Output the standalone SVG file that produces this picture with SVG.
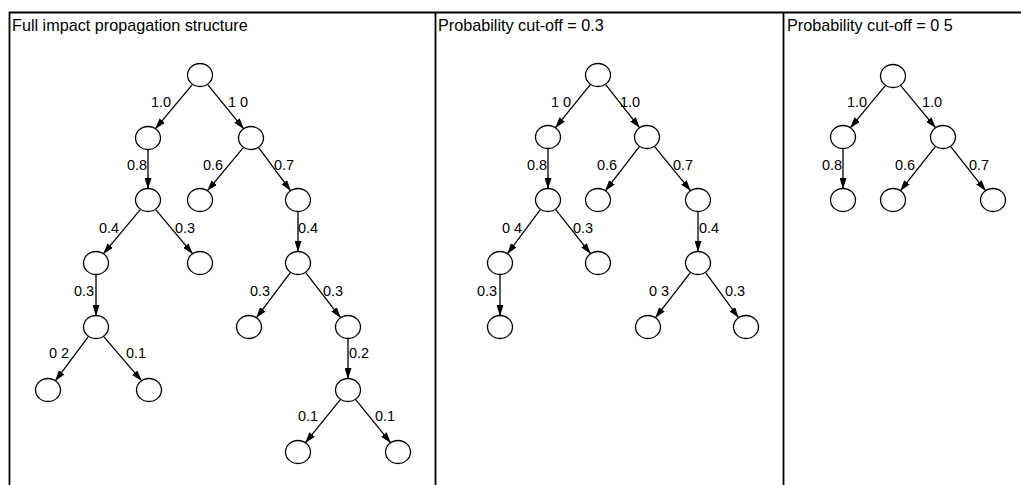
<svg xmlns="http://www.w3.org/2000/svg" width="1021" height="485" viewBox="0 0 1021 485">
<style>
.frame{stroke:#000;stroke-width:1.8;fill:none}
.node{fill:#fff;stroke:#000;stroke-width:1.3}
.edge{stroke:#000;stroke-width:1.3;fill:none;marker-end:url(#arr)}
.title{font-family:"Liberation Sans",Arial,sans-serif;font-size:16.2px;fill:#000}
.lbl{font-family:"Liberation Sans",Arial,sans-serif;font-size:14.5px;fill:#000}
</style>
<defs>
<marker id="arr" markerUnits="userSpaceOnUse" markerWidth="11" markerHeight="7" refX="10.5" refY="3.5" orient="auto">
<path d="M0,0 L11,3.5 L0,7 z" fill="#000"/>
</marker>
</defs>
<rect width="1021" height="485" fill="#fff"/>
<g id="frame">
<line class="frame" x1="9" y1="12.5" x2="1021" y2="12.5"/>
<line class="frame" x1="9.5" y1="12" x2="9.5" y2="485"/>
<line class="frame" x1="435.5" y1="12" x2="435.5" y2="485"/>
<line class="frame" x1="783.5" y1="12" x2="783.5" y2="485"/>
<text class="title" x="12" y="31">Full impact propagation structure</text>
<text class="title" x="438" y="31">Probability cut-off = 0.3</text>
<text class="title" x="787" y="31">Probability cut-off = 0 5</text>
</g>
<g id="connectors">
<!-- panel 1 -->
<line class="edge" x1="192.5" y1="84.3" x2="155.5" y2="128.7"/>
<line class="edge" x1="207.5" y1="84.3" x2="243.5" y2="128.7"/>
<line class="edge" x1="148" y1="149.5" x2="148" y2="188.5"/>
<line class="edge" x1="243.5" y1="147.3" x2="207.5" y2="190.7"/>
<line class="edge" x1="258.5" y1="147.3" x2="290.5" y2="190.7"/>
<line class="edge" x1="140.5" y1="209.3" x2="103.5" y2="253.7"/>
<line class="edge" x1="155.5" y1="209.3" x2="192.5" y2="253.7"/>
<line class="edge" x1="298" y1="211.5" x2="298" y2="251.5"/>
<line class="edge" x1="96" y1="274.5" x2="96" y2="315.5"/>
<line class="edge" x1="290.5" y1="272.3" x2="256.5" y2="317.7"/>
<line class="edge" x1="305.5" y1="272.3" x2="340.5" y2="317.7"/>
<line class="edge" x1="88.5" y1="336.3" x2="55.5" y2="380.7"/>
<line class="edge" x1="103.5" y1="336.3" x2="141.5" y2="380.7"/>
<line class="edge" x1="348" y1="338.5" x2="348" y2="378.5"/>
<line class="edge" x1="340.5" y1="399.3" x2="305.5" y2="442.7"/>
<line class="edge" x1="355.5" y1="399.3" x2="390.5" y2="442.7"/>
<!-- panel 2 -->
<line class="edge" x1="590.5" y1="84.3" x2="555.5" y2="127.7"/>
<line class="edge" x1="605.5" y1="84.3" x2="639.5" y2="127.7"/>
<line class="edge" x1="548" y1="148.5" x2="548" y2="188.5"/>
<line class="edge" x1="639.5" y1="146.3" x2="605.5" y2="190.7"/>
<line class="edge" x1="654.5" y1="146.3" x2="690.5" y2="190.7"/>
<line class="edge" x1="540.5" y1="209.3" x2="507.5" y2="253.7"/>
<line class="edge" x1="555.5" y1="209.3" x2="590.5" y2="253.7"/>
<line class="edge" x1="698" y1="211.5" x2="698" y2="251.5"/>
<line class="edge" x1="500" y1="274.5" x2="500" y2="315.5"/>
<line class="edge" x1="690.5" y1="272.3" x2="655.5" y2="317.7"/>
<line class="edge" x1="705.5" y1="272.3" x2="738.5" y2="317.7"/>
<!-- panel 3 -->
<line class="edge" x1="885.5" y1="85.3" x2="850.5" y2="127.7"/>
<line class="edge" x1="900.5" y1="85.3" x2="935.5" y2="127.7"/>
<line class="edge" x1="843" y1="148.5" x2="843" y2="188.5"/>
<line class="edge" x1="935.5" y1="146.3" x2="900.5" y2="190.7"/>
<line class="edge" x1="950.5" y1="146.3" x2="985.5" y2="190.7"/>
</g>
<g id="labels">
<text class="lbl" x="151" y="107">1.0</text>
<text class="lbl" x="228" y="107">1 0</text>
<text class="lbl" x="127" y="170">0.8</text>
<text class="lbl" x="203" y="170">0.6</text>
<text class="lbl" x="274" y="170">0.7</text>
<text class="lbl" x="99" y="233">0.4</text>
<text class="lbl" x="175" y="233">0.3</text>
<text class="lbl" x="298" y="233">0.4</text>
<text class="lbl" x="74" y="296">0.3</text>
<text class="lbl" x="250" y="296">0.3</text>
<text class="lbl" x="323" y="296">0.3</text>
<text class="lbl" x="49" y="358">0 2</text>
<text class="lbl" x="126" y="358">0.1</text>
<text class="lbl" x="349" y="358">0.2</text>
<text class="lbl" x="298" y="421">0.1</text>
<text class="lbl" x="375" y="421">0.1</text>
<text class="lbl" x="551" y="107">1 0</text>
<text class="lbl" x="620" y="107">1.0</text>
<text class="lbl" x="527" y="170">0.8</text>
<text class="lbl" x="597" y="170">0.6</text>
<text class="lbl" x="673" y="170">0.7</text>
<text class="lbl" x="502" y="233">0 4</text>
<text class="lbl" x="573" y="233">0.3</text>
<text class="lbl" x="699" y="233">0.4</text>
<text class="lbl" x="477" y="296">0.3</text>
<text class="lbl" x="649" y="296">0 3</text>
<text class="lbl" x="725" y="296">0.3</text>
<text class="lbl" x="847" y="107">1.0</text>
<text class="lbl" x="922" y="107">1.0</text>
<text class="lbl" x="822" y="170">0.8</text>
<text class="lbl" x="895" y="170">0.6</text>
<text class="lbl" x="969" y="170">0.7</text>
</g>
<g id="p1a"><ellipse class="node" cx="200" cy="75" rx="12.5" ry="11.5"/></g>
<g id="p1b"><ellipse class="node" cx="148" cy="138" rx="12.5" ry="11.5"/></g>
<g id="p1c"><ellipse class="node" cx="251" cy="138" rx="12.5" ry="11.5"/></g>
<g id="p1d"><ellipse class="node" cx="148" cy="200" rx="12.5" ry="11.5"/></g>
<g id="p1e"><ellipse class="node" cx="200" cy="200" rx="12.5" ry="11.5"/></g>
<g id="p1f"><ellipse class="node" cx="298" cy="200" rx="12.5" ry="11.5"/></g>
<g id="p1g"><ellipse class="node" cx="96" cy="263" rx="12.5" ry="11.5"/></g>
<g id="p1h"><ellipse class="node" cx="200" cy="263" rx="12.5" ry="11.5"/></g>
<g id="p1i"><ellipse class="node" cx="298" cy="263" rx="12.5" ry="11.5"/></g>
<g id="p1j"><ellipse class="node" cx="96" cy="327" rx="12.5" ry="11.5"/></g>
<g id="p1k"><ellipse class="node" cx="249" cy="327" rx="12.5" ry="11.5"/></g>
<g id="p1l"><ellipse class="node" cx="348" cy="327" rx="12.5" ry="11.5"/></g>
<g id="p1m"><ellipse class="node" cx="48" cy="390" rx="12.5" ry="11.5"/></g>
<g id="p1n"><ellipse class="node" cx="149" cy="390" rx="12.5" ry="11.5"/></g>
<g id="p1o"><ellipse class="node" cx="348" cy="390" rx="12.5" ry="11.5"/></g>
<g id="p1p"><ellipse class="node" cx="298" cy="452" rx="12.5" ry="11.5"/></g>
<g id="p1q"><ellipse class="node" cx="398" cy="452" rx="12.5" ry="11.5"/></g>
<g id="p2a"><ellipse class="node" cx="598" cy="75" rx="12.5" ry="11.5"/></g>
<g id="p2b"><ellipse class="node" cx="548" cy="137" rx="12.5" ry="11.5"/></g>
<g id="p2c"><ellipse class="node" cx="647" cy="137" rx="12.5" ry="11.5"/></g>
<g id="p2d"><ellipse class="node" cx="548" cy="200" rx="12.5" ry="11.5"/></g>
<g id="p2e"><ellipse class="node" cx="598" cy="200" rx="12.5" ry="11.5"/></g>
<g id="p2f"><ellipse class="node" cx="698" cy="200" rx="12.5" ry="11.5"/></g>
<g id="p2g"><ellipse class="node" cx="500" cy="263" rx="12.5" ry="11.5"/></g>
<g id="p2h"><ellipse class="node" cx="598" cy="263" rx="12.5" ry="11.5"/></g>
<g id="p2i"><ellipse class="node" cx="698" cy="263" rx="12.5" ry="11.5"/></g>
<g id="p2j"><ellipse class="node" cx="500" cy="327" rx="12.5" ry="11.5"/></g>
<g id="p2k"><ellipse class="node" cx="648" cy="327" rx="12.5" ry="11.5"/></g>
<g id="p2l"><ellipse class="node" cx="746" cy="327" rx="12.5" ry="11.5"/></g>
<g id="p3a"><ellipse class="node" cx="893" cy="76" rx="12.5" ry="11.5"/></g>
<g id="p3b"><ellipse class="node" cx="843" cy="137" rx="12.5" ry="11.5"/></g>
<g id="p3c"><ellipse class="node" cx="943" cy="137" rx="12.5" ry="11.5"/></g>
<g id="p3d"><ellipse class="node" cx="843" cy="200" rx="12.5" ry="11.5"/></g>
<g id="p3e"><ellipse class="node" cx="893" cy="200" rx="12.5" ry="11.5"/></g>
<g id="p3f"><ellipse class="node" cx="993" cy="200" rx="12.5" ry="11.5"/></g>
</svg>
